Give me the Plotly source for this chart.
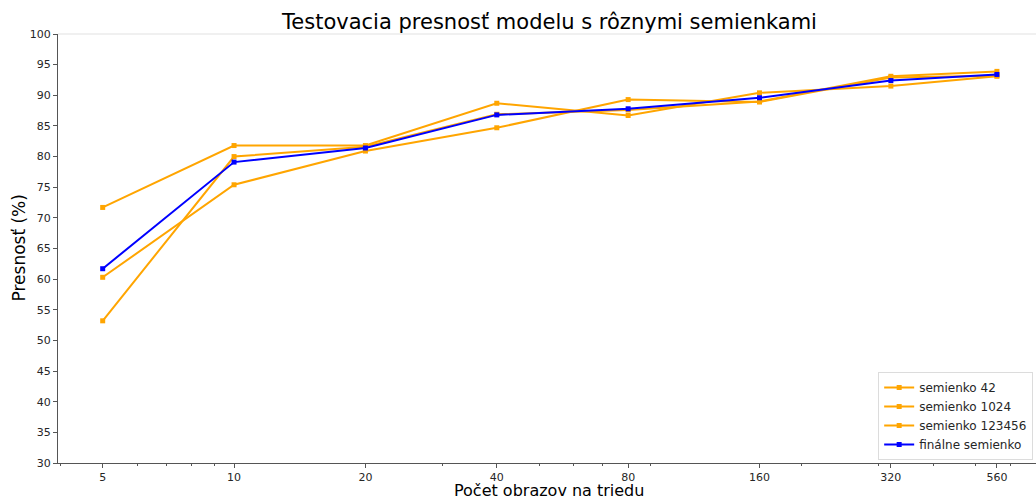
import math
import plotly.graph_objects as go

samples = [5, 10, 20, 40, 80, 160, 320, 560]
tick_labels = ["5", "10", "20", "40", "80", "160", "320", "560"]
seed_42 = [71.7, 81.8, 81.8, 88.7, 86.7, 90.4, 91.5, 93.1]
seed_1024 = [60.3, 75.4, 80.9, 84.7, 89.3, 88.9, 92.9, 93.2]
seed_123456 = [53.2, 80.0, 81.6, 86.9, 87.6, 89.0, 93.1, 93.9]
final_seed = [61.7, 79.1, 81.4, 86.8, 87.8, 89.6, 92.4, 93.4]
minor_vals = [4, 6, 7, 8, 9, 30, 50, 60, 70, 90, 200, 300, 400, 500, 600, 700]

FONT = "DejaVu Sans"
series = [
    ("semienko 42", seed_42, "#FFA500"),
    ("semienko 1024", seed_1024, "#FFA500"),
    ("semienko 123456", seed_123456, "#FFA500"),
    ("finálne semienko", final_seed, "#0000FF"),
]

fig = go.Figure()
for name, vals, col in series:
    fig.add_trace(go.Scatter(
        x=samples, y=vals, name=name, mode="lines+markers",
        line=dict(color=col, width=2),
        marker=dict(symbol="square", size=5, color=col),
    ))

lo = math.log10(5) - 0.1024
hi = math.log10(5) + (1036 - 102) / 436.7

fig.update_layout(
    width=1036, height=497,
    margin=dict(l=58, r=0, t=34, b=34),
    paper_bgcolor="white", plot_bgcolor="white",
    font=dict(family=FONT, size=11, color="#262626"),
    title=dict(text="Testovacia presnosť modelu s rôznymi semienkami",
               x=(58 + 1041) / 2 / 1036, xanchor="center", y=1 - 22 / 497, yanchor="middle",
               font=dict(size=21, color="black")),
    showlegend=True,
    legend=dict(x=1033 / 1036, xanchor="right", y=(463 - 460) / 429, yanchor="bottom",
                bgcolor="rgba(255,255,255,0.9)", bordercolor="#dcdcdc", borderwidth=1,
                font=dict(size=12, color="#262626"), itemwidth=30, tracegroupgap=0),
    xaxis=dict(type="log", range=[lo, hi], tickmode="array", tickvals=samples,
               ticktext=tick_labels, ticks="outside", ticklen=4, tickcolor="#555",
               showline=True, linecolor="#555", linewidth=1, showgrid=False,
               zeroline=False,
               minor=dict(tickmode="array", tickvals=minor_vals, ticks="outside",
                          ticklen=2, tickcolor="#555", showgrid=False)),
    yaxis=dict(range=[30, 100], tickmode="linear", tick0=30, dtick=5,
               ticks="outside", ticklen=4, tickcolor="#555",
               showline=True, linecolor="#555", linewidth=1, showgrid=False,
               zeroline=False),
    annotations=[
        dict(text="Počet obrazov na triedu", xref="paper", yref="paper",
             x=(549 - 58) / 978, y=-(490 - 463) / 429, xanchor="center", yanchor="middle",
             showarrow=False, font=dict(size=16, color="black")),
        dict(text="Presnosť (%)", xref="paper", yref="paper",
             x=-(58 - 18) / 978, y=0.5, xanchor="center", yanchor="middle",
             textangle=-90, showarrow=False, font=dict(size=17, color="black")),
    ],
    shapes=[
        dict(type="line", xref="paper", yref="paper", x0=0, x1=1, y0=1, y1=1,
             line=dict(color="#f0f0f0", width=2)),
    ],
)

fig.write_html("out.html")
